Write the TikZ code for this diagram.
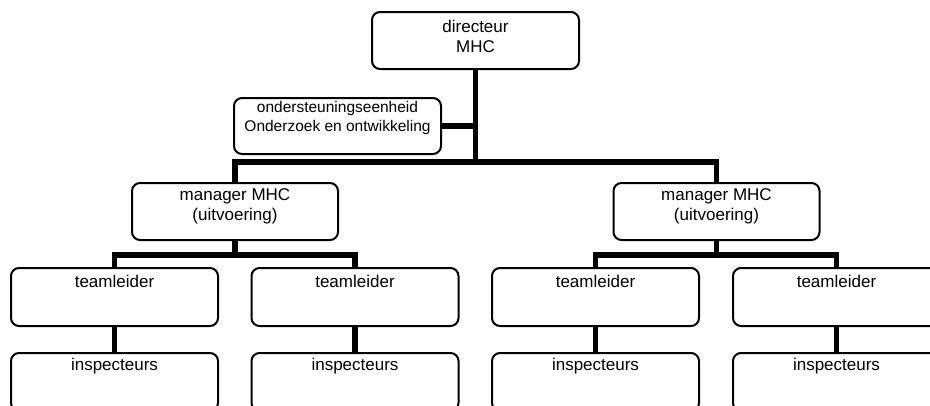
\documentclass[tikz,border=0pt]{standalone}
\usepackage{fontspec}
\setmainfont{Liberation Sans}
\begin{document}
\begin{tikzpicture}[x=1pt,y=-1pt,
  box/.style={draw=black, line width=2pt, rounded corners=8pt, fill=white,
    minimum width=207pt, minimum height=57pt, inner sep=0pt},
  txt/.style={font=\fontsize{17}{20}\selectfont, align=center, inner sep=0pt},
  stxt/.style={font=\fontsize{15.5}{19}\selectfont, align=center, inner sep=0pt},
  conn/.style={line width=5.5pt, black}]
\useasboundingbox (0,0) rectangle (930,405);
\clip (0,0) rectangle (930,405);
% boxes
\node[box] (d) at (475.5,40.5) {};
\node[box, minimum height=56pt] (o) at (337.5,126) {};
\node[box, minimum width=206pt] (m1) at (235,211.5) {};
\node[box, minimum width=206pt] (m2) at (716.5,211.5) {};
\node[box, minimum height=58pt] (t1) at (114.5,297) {};
\node[box, minimum height=58pt] (t2) at (355,297) {};
\node[box, minimum height=58pt] (t3) at (595.5,297) {};
\node[box, minimum height=58pt] (t4) at (836.5,297) {};
\node[box, minimum height=58pt] (i1) at (114.5,382) {};
\node[box, minimum height=58pt] (i2) at (355,382) {};
\node[box, minimum height=58pt] (i3) at (595.5,382) {};
\node[box, minimum height=58pt] (i4) at (836.5,382) {};
% connectors
\coordinate (bar) at (477,162);
\draw[conn] (d.south) -- (d.south |- bar);
\draw[conn] (o.east) -- (o.east -| d.south);
\draw[conn] (m1.north) |- (d.south |- bar) -| (m2.north);
\coordinate (b1) at (235,255);
\coordinate (b2) at (716.5,255);
\draw[conn] (m1.south) -- (b1);
\draw[conn] (t1.north) |- (b1) -| (t2.north);
\draw[conn] (m2.south) -- (b2);
\draw[conn] (t3.north) |- (b2) -| (t4.north);
\draw[conn] (t1.south) -- (i1.north);
\draw[conn] (t2.south) -- (i2.north);
\draw[conn] (t3.south) -- (i3.north);
\draw[conn] (t4.south) -- (i4.north);
% texts
\node[txt] (dt) at (475.5,36) {directeur\\MHC};
\node[stxt] (ot) at (337.5,118) {ondersteuningseenheid\\Onderzoek en ontwikkeling};
\node[txt] (m1t) at (235,206) {manager MHC\\(uitvoering)};
\node[txt] (m2t) at (716.5,206) {manager MHC\\(uitvoering)};
\node[txt] (t1t) at (114.5,281) {teamleider};
\node[txt] (t2t) at (355,281) {teamleider};
\node[txt] (t3t) at (595.5,281) {teamleider};
\node[txt] (t4t) at (836.5,281) {teamleider};
\node[txt] (i1t) at (114.5,366) {inspecteurs};
\node[txt] (i2t) at (355,366) {inspecteurs};
\node[txt] (i3t) at (595.5,366) {inspecteurs};
\node[txt] (i4t) at (836.5,366) {inspecteurs};
\end{tikzpicture}
\end{document}
